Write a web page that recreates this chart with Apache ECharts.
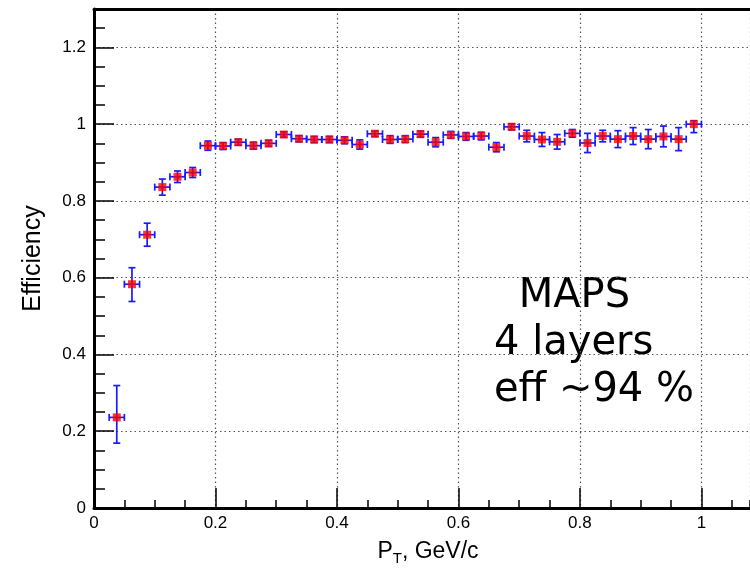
<!DOCTYPE html>
<html>
<head>
<meta charset="utf-8">
<script src="https://cdn.jsdelivr.net/npm/echarts@6/dist/echarts.min.js"></script>
<style>
html,body{margin:0;padding:0;background:#fff;}
#chart{width:750px;height:571px;}
</style>
</head>
<body>
<div id="chart"></div>
<script>
// ---- data ----
const xCenters = [0.0375,0.0625,0.0875,0.1125,0.1375,0.1625,0.1875,0.2125,0.2375,0.2625,
  0.2875,0.3125,0.3375,0.3625,0.3875,0.4125,0.4375,0.4625,0.4875,0.5125,
  0.5375,0.5625,0.5875,0.6125,0.6375,0.6625,0.6875,0.7125,0.7375,0.7625,
  0.7875,0.8125,0.8375,0.8625,0.8875,0.9125,0.9375,0.9625,0.9875];
const effValues = [0.236,0.583,0.712,0.836,0.863,0.874,0.944,0.943,0.953,0.944,
  0.950,0.973,0.962,0.960,0.960,0.958,0.947,0.975,0.960,0.961,
  0.974,0.953,0.972,0.968,0.969,0.940,0.993,0.969,0.960,0.954,
  0.976,0.951,0.969,0.961,0.969,0.961,0.968,0.961,1.000];
const errLow = [0.067,0.045,0.030,0.021,0.015,0.013,0.012,0.009,0.008,0.009,
  0.008,0.007,0.008,0.008,0.008,0.009,0.012,0.007,0.010,0.009,
  0.008,0.012,0.009,0.010,0.010,0.012,0.008,0.015,0.018,0.019,
  0.010,0.025,0.015,0.022,0.022,0.025,0.027,0.030,0.022];
const errHigh = [0.083,0.043,0.030,0.021,0.015,0.013,0.012,0.009,0.008,0.009,
  0.008,0.007,0.008,0.008,0.008,0.009,0.012,0.007,0.010,0.009,
  0.008,0.012,0.009,0.010,0.010,0.012,0.008,0.015,0.018,0.019,
  0.010,0.025,0.015,0.022,0.022,0.025,0.027,0.030,0.009];
const binHalfWidth = 0.0125;
const annotationLines = [' MAPS', '4 layers', 'eff ~94 %'];
const yTitle = 'Efficiency';

// ---- chart ----
const chart = echarts.init(document.getElementById('chart'), null, {renderer: 'canvas'});
const errData = xCenters.map((x, i) => [x, effValues[i], errLow[i], errHigh[i], binHalfWidth]);
const ptData = xCenters.map((x, i) => [x, effValues[i]]);

const labelFont = {fontFamily: 'Liberation Sans', fontSize: 17, color: '#000'};
const dotted = {show: true, lineStyle: {color: '#555', width: 1.2, type: [1.5, 3]}};
const annFont = '40px "DejaVu Sans"';

const option = {
  animation: false,
  backgroundColor: '#fff',
  grid: {left: 94, top: 9, right: 0, bottom: 58, containLabel: false},
  xAxis: [
    {type: 'value', min: 0, max: 1.08, interval: 0.2, position: 'bottom',
     axisLine: {show: true, onZero: false, lineStyle: {color: '#000', width: 3}},
     axisTick: {show: true, inside: true, length: 20, lineStyle: {color: '#000', width: 1.5}},
     axisLabel: Object.assign({margin: 7, showMaxLabel: false}, labelFont),
     splitLine: dotted,
     name: '{a|P}{b|T}{a|, GeV/c}', nameLocation: 'middle', nameGap: 30,
     nameTextStyle: {padding: [0, 0, 0, 12], rich: {
       a: {fontFamily: 'Liberation Sans', fontSize: 23, color: '#000'},
       b: {fontFamily: 'Liberation Sans', fontSize: 15, color: '#000', padding: [13, 0, 0, 0]}}}},
    {type: 'value', min: 0, max: 1.08, interval: 0.05, position: 'bottom',
     axisLine: {show: false},
     axisTick: {show: true, inside: true, length: 8, lineStyle: {color: '#000', width: 1.5}},
     axisLabel: {show: false}, splitLine: {show: false}},
    {type: 'value', min: 0, max: 1.08, position: 'top',
     axisLine: {show: true, onZero: false, lineStyle: {color: '#000', width: 3}},
     axisTick: {show: false}, axisLabel: {show: false}, splitLine: {show: false}}
  ],
  yAxis: [
    {type: 'value', min: 0, max: 1.3, interval: 0.2, position: 'left',
     axisLine: {show: true, onZero: false, lineStyle: {color: '#000', width: 3}},
     axisTick: {show: true, inside: true, length: 20, lineStyle: {color: '#000', width: 1.5}},
     axisLabel: Object.assign({margin: 8, showMaxLabel: false}, labelFont),
     splitLine: dotted,
     name: yTitle, nameLocation: 'middle', nameGap: 48,
     nameTextStyle: {fontFamily: 'Liberation Sans', fontSize: 25, color: '#000'}},
    {type: 'value', min: 0, max: 1.3, interval: 0.05, position: 'left',
     axisLine: {show: false},
     axisTick: {show: true, inside: true, length: 11, lineStyle: {color: '#000', width: 1.5}},
     axisLabel: {show: false}, splitLine: {show: false}}
  ],
  series: [
    {type: 'custom', xAxisIndex: 0, yAxisIndex: 0, z: 3, data: errData,
     renderItem: function (params, api) {
       const x = api.value(0), y = api.value(1), lo = api.value(2), hi = api.value(3), hw = api.value(4);
       const c = api.coord([x, y]);
       const t = api.coord([x, y + hi]);
       const b = api.coord([x, y - lo]);
       const l = api.coord([x - hw, y]);
       const r = api.coord([x + hw, y]);
       const cap = 3.5;
       const st = {stroke: '#1a1aff', lineWidth: 1.7, fill: null};
       const mk = (x1, y1, x2, y2) => ({type: 'line', shape: {x1, y1, x2, y2}, style: st});
       return {type: 'group', children: [
         mk(c[0], t[1], c[0], b[1]),
         mk(c[0] - cap, t[1], c[0] + cap, t[1]),
         mk(c[0] - cap, b[1], c[0] + cap, b[1]),
         mk(l[0], c[1], r[0], c[1]),
         mk(l[0], c[1] - cap, l[0], c[1] + cap),
         mk(r[0], c[1] - cap, r[0], c[1] + cap)
       ]};
     }},
    {type: 'scatter', xAxisIndex: 0, yAxisIndex: 0, z: 4, data: ptData,
     symbol: 'rect', symbolSize: 8, itemStyle: {color: '#ff0000'}}
  ],
  graphic: [
    {type: 'text', left: 506, top: 277, style: {text: annotationLines[0], font: annFont, fill: '#000'}},
    {type: 'text', left: 494, top: 324, style: {text: annotationLines[1], font: annFont, fill: '#000'}},
    {type: 'text', left: 494, top: 371, style: {text: annotationLines[2], font: annFont, fill: '#000'}}
  ]
};
chart.setOption(option);
</script>
</body>
</html>
